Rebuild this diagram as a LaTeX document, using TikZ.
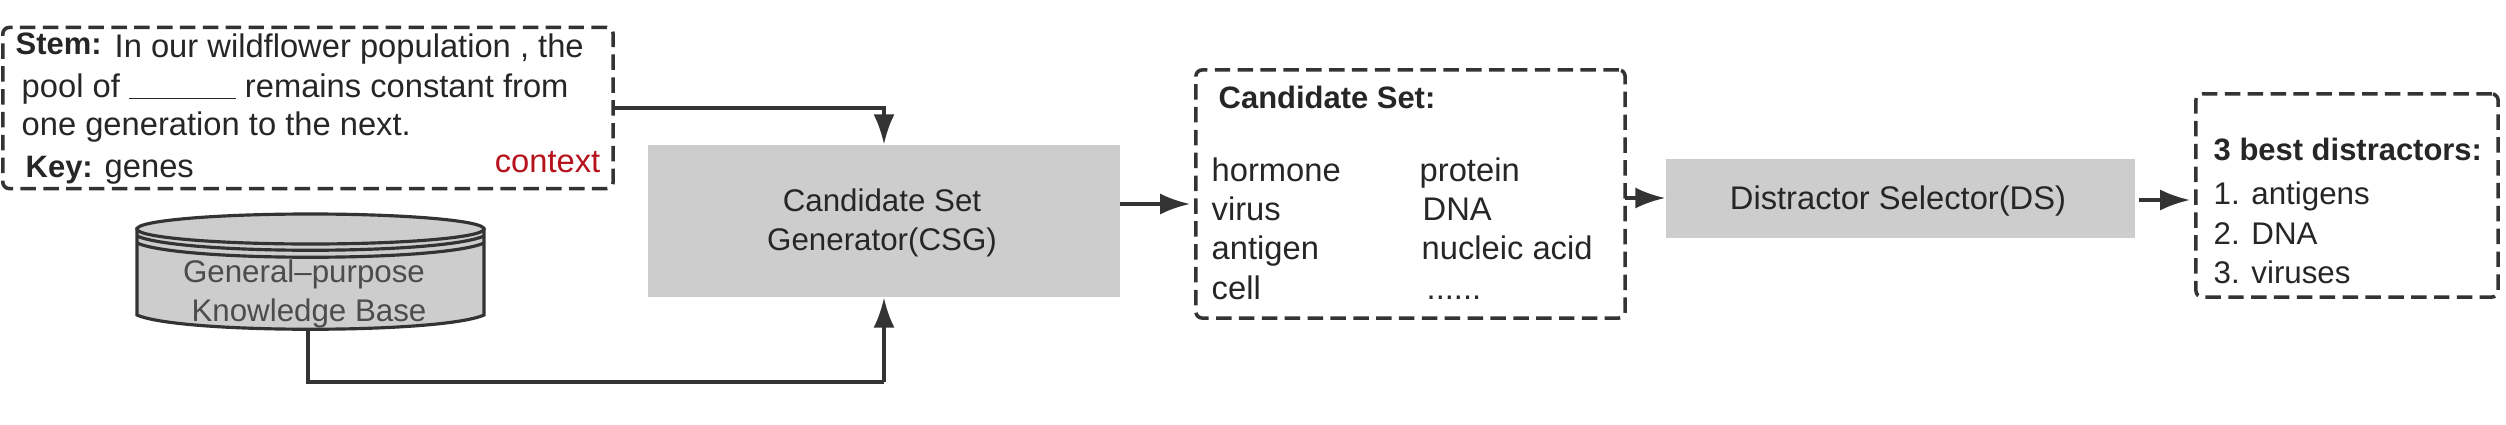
\documentclass[tikz,border=0pt]{standalone}
\usepackage{fontspec}
\setmainfont{Liberation Sans}
\usepackage{xcolor}
\usetikzlibrary{arrows.meta,positioning}

\definecolor{boxgray}{HTML}{CDCDCD}
\definecolor{linegray}{HTML}{333333}
\definecolor{contextred}{HTML}{B5121B}

\begin{document}
\begin{tikzpicture}[
  x=0.01cm,
  y=-0.01cm,
  >={Latex[length=8.5pt,width=6pt]},
  every node/.style={font=\fontsize{9.3}{10}\selectfont,inner sep=0pt,text=black!85},
  dashbox/.style={
    draw=linegray,
    line width=1pt,
    dash pattern=on 4.4pt off 2.1pt,
    rounded corners=1.8pt
  },
  graybox/.style={fill=boxgray},
  link/.style={draw=linegray,line width=0.95pt},
  textline/.style={anchor=base west},
  listline/.style={anchor=base west,font=\fontsize{8.9}{10}\selectfont},
  boldline/.style={anchor=base west,font=\fontsize{8.8}{10}\selectfont\bfseries},
  midline/.style={anchor=base,font=\fontsize{8.9}{10}\selectfont},
  kbline/.style={anchor=base,font=\fontsize{8.9}{10}\selectfont,text=black!70}
]
\useasboundingbox (0,0) rectangle (2506,424);

% Context box.
\node[dashbox,minimum width=6.10cm,minimum height=1.61cm] (stembox) at (308,108) {};
\node[boldline] (stemlabel) at (15,54) {Stem:};
\node[textline] (stemone) at (114,57) {In our wildflower population , the};
\node[textline] (stemtwo) at (21,97) {pool of \rule[-0.7pt]{30.4pt}{0.5pt} remains constant from};
\node[textline] (stemthree) at (21,135) {one generation to the next.};
\node[boldline] (keylabel) at (25,177) {Key:};
\node[textline] (keyword) at (104,177) {genes};
\node[anchor=base east,text=contextred] (contextlabel) at (601,172) {context};

% Knowledge base cylinder.
\draw[fill=boxgray,draw=linegray,line width=0.9pt]
  (137,229) -- (137,315)
  .. controls (180,334) and (441,334) .. (484,315)
  -- (484,229) -- cycle;
\draw[fill=boxgray,draw=linegray,line width=0.9pt]
  (310.5,229) ellipse [x radius=173.5,y radius=15];
\draw[draw=linegray,line width=0.9pt]
  (137,236) .. controls (180,255) and (441,255) .. (484,236);
\draw[draw=linegray,line width=0.9pt]
  (137,243) .. controls (180,262) and (441,262) .. (484,243);
\node[minimum width=3.47cm,minimum height=1.15cm] (kb) at (308,271.5) {};
\node[kbline] (kbone) at (304,282) {General–purpose};
\node[kbline] (kbtwo) at (309,321) {Knowledge Base};

% Generator and selector blocks.
\node[graybox,minimum width=4.72cm,minimum height=1.52cm] (csg) at (884,221) {};
\node[midline] (csgone) at (882,211) {Candidate Set};
\node[midline] (csgtwo) at (882,250) {Generator(CSG)};
\node[graybox,minimum width=4.69cm,minimum height=0.79cm] (ds) at (1900.5,198.5) {};
\node[anchor=base] (dslabel) at (1898,209) {Distractor Selector(DS)};

% Candidate set.
\node[dashbox,minimum width=4.29cm,minimum height=2.48cm] (candset) at (1410.5,194) {};
\node[boldline] (candtitle) at (1218,108) {Candidate Set:};
\node[textline] (canda) at (1211,181) {hormone};
\node[textline] (candb) at (1211,220) {virus};
\node[textline] (candc) at (1211,259) {antigen};
\node[textline] (candd) at (1211,299) {cell};
\node[textline] (cande) at (1419,181) {protein};
\node[textline] (candf) at (1422,220) {DNA};
\node[textline] (candg) at (1421,259) {nucleic acid};
\node[textline] (candh) at (1426,299) {......};

% Selected distractors.
\node[dashbox,minimum width=3.02cm,minimum height=2.03cm] (bestset) at (2347,195.5) {};
\node[boldline] (besttitle) at (2213,160) {3 best distractors:};
\node[listline] (besta) at (2213,204) {1. antigens};
\node[listline] (bestb) at (2213,244) {2. DNA};
\node[listline] (bestc) at (2213,283) {3. viruses};

% Connections.
\coordinate (kbturn) at (884,382);
\coordinate (csgexit) at (1120,204);
\coordinate (candexit) at (1625,198);
\coordinate (dsexit) at (2139,200);
\coordinate (candentry) at (1190,204);
\coordinate (bestentry) at (2190,200);
\draw[link,->] (stembox.east) -| (csg.north);
\draw[link] (kb.south) |- (kbturn);
\draw[link,->] (kbturn) -- (csg.south);
\draw[link,->] (csgexit) -- (candentry);
\draw[link,->] (candexit) -- (ds.west |- candexit);
\draw[link,->] (dsexit) -- (bestentry);
\end{tikzpicture}
\end{document}
